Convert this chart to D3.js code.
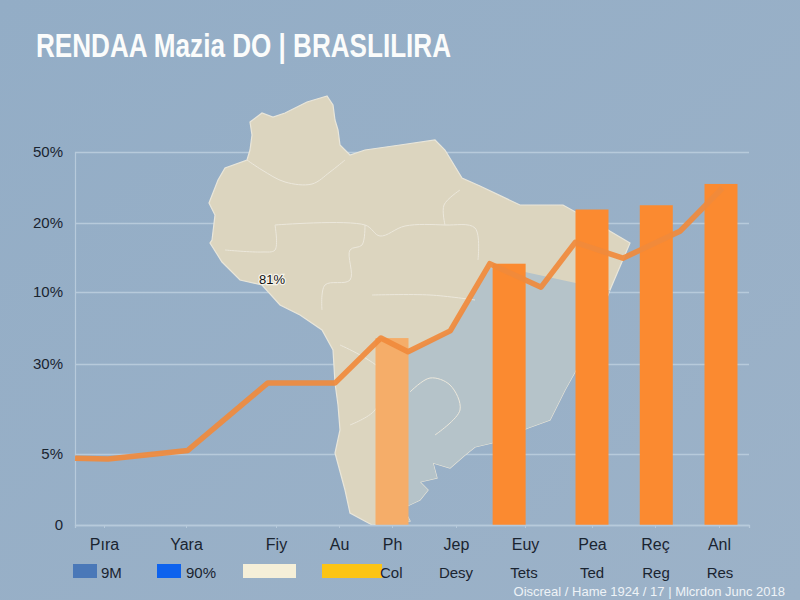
<!DOCTYPE html>
<html>
<head>
<meta charset="utf-8">
<script src="https://cdnjs.cloudflare.com/ajax/libs/d3/7.8.5/d3.min.js"></script>
<style>
  html, body { margin: 0; padding: 0; background: #97afc7; overflow: hidden; }
  text { font-family: "Liberation Sans", Arial, sans-serif; }
  .title { font-family: "Liberation Sans Narrow", "Liberation Sans", sans-serif; font-weight: bold; }
</style>
</head>
<body>
<script>
// values
var categories = ["Pıra", "Yara", "Fiy", "Au", "Ph", "Jep", "Euy", "Pea", "Reç", "Anl"];
var yLabels = ["0", "5%", "30%", "10%", "20%", "50%"];
var lineAt = [-0.35, 0.05, 1.02, 1.91, 2.94, 3.79, 4.25, 4.91, 5.49, 6.24, 6.75, 7.49, 8.39, 9.05];
var lineValues = [0.94, 0.93, 1.04, 1.79, 1.79, 2.36, 2.17, 2.46, 3.41, 3.07, 3.72, 3.49, 3.88, 4.49];
var barAt = [4, 5.77, 7, 8.02, 9.03];
var barValues = [2.36, 3.41, 4.19, 4.25, 4.55];
var barFaded = [true, false, false, false, false];
var legendLabels = ["9M", "90%", "", "Col", "Desy", "Tets", "Ted", "Reg", "Res"];

// the backdrop map is drawn in page pixels
var mapOutline = [[327,96],[307,102],[285,113],[273,117],[262,113],[250,122],[252,135],[250,150],[247,160],[225,168],[218,180],[209,203],
  [215,215],[212,240],[210,243],[222,262],[240,280],[262,285],[280,305],[300,315],[322,330],[333,350],[335,383],[338,405],[340,430],
  [335,453],[345,490],[350,513],[372,525],[410,521],[403,508],[420,500],[428,490],[420,482],[437,478],[433,463],[450,468],[465,455],
  [475,447],[492,443],[528,428],[550,420],[565,390],[575,372],[592,335],[610,290],[630,243],[608,230],[563,205],[520,205],[480,186],
  [462,178],[445,150],[435,140],[400,145],[365,150],[350,155],[340,145],[338,130],[335,120],[333,105]];
var shadeArea = [[408,352],[450,331],[490,268],[525,272],[608,290],[660,290],[660,440],[408,540]];
var borders = [
  [[247,160],[262,170],[285,182],[312,184],[330,172],[345,160]],
  [[275,225],[275,250],[262,252],[225,250]],
  [[275,225],[365,225],[380,236],[405,226],[445,225],[475,228],[478,260]],
  [[365,225],[362,245],[350,250],[350,280],[325,285],[322,310]],
  [[372,295],[430,295],[475,300]],
  [[445,225],[444,205],[460,190]],
  [[340,345],[385,375],[375,410],[350,425]],
  [[410,392],[430,378],[450,385],[460,410],[435,435]]
];

var width = 800, height = 600;
var margin = { top: 152, right: 51, bottom: 75, left: 75 };
var plotRight = width - margin.right, plotBottom = height - margin.bottom;

var svg = d3.select("body").append("svg")
    .attr("width", width)
    .attr("height", height)
    .style("display", "block");

var defs = svg.append("defs");
var bg = defs.append("linearGradient").attr("id", "bg").attr("x1", 0).attr("y1", 0).attr("x2", 1).attr("y2", 1);
bg.append("stop").attr("offset", "0%").attr("stop-color", "#93adc6");
bg.append("stop").attr("offset", "100%").attr("stop-color", "#9cb2c8");
defs.append("clipPath").attr("id", "shade").append("polygon")
    .attr("points", shadeArea.join(" "));

svg.append("rect").attr("width", width).attr("height", height).attr("fill", "url(#bg)");

// x steps are uneven in the picture so the scale is piecewise
var x = d3.scaleLinear()
    .domain([-0.35, 0, 1, 2, 3, 4, 5, 6, 7, 8, 9, 9.45])
    .range([margin.left, 104, 186, 276, 339, 392, 456, 525, 592, 655, 719, plotRight]);
var y = d3.scaleLinear()
    .domain([0, 1, 2, 3, 4, 5])
    .range([plotBottom, 454, 364, 292, 223, margin.top]);

// grid under the map
var yAxis = d3.axisLeft(y)
    .tickValues(d3.range(yLabels.length))
    .tickSize(-(plotRight - margin.left))
    .tickPadding(12)
    .tickFormat(function(d) { return yLabels[d]; });

var yG = svg.append("g").attr("transform", "translate(" + margin.left + ",0)").call(yAxis);
yG.select(".domain").attr("stroke", "#b7cadb").attr("stroke-width", 1.2);
yG.selectAll(".tick line").attr("stroke", "#b7cadb").attr("stroke-width", 1.3);
yG.selectAll(".tick text").attr("font-size", 15).attr("fill", "#1a2430").attr("font-family", "Liberation Sans");

// map
var outline = d3.line().curve(d3.curveLinearClosed);
var borderLine = d3.line().curve(d3.curveCatmullRom);
svg.append("path")
    .attr("d", outline(mapOutline))
    .attr("fill", "#dcd5bf")
    .attr("stroke", "#e9e6da")
    .attr("stroke-width", 1.2);
svg.append("path")
    .attr("d", outline(mapOutline))
    .attr("clip-path", "url(#shade)")
    .attr("fill", "#b5c3c9");
svg.selectAll(".border")
    .data(borders)
  .enter().append("path")
    .attr("class", "border")
    .attr("d", function(d) { return borderLine(d); })
    .attr("fill", "none")
    .attr("stroke", "#ece8dc")
    .attr("stroke-width", 1);

// bars
var barWidth = 33;
svg.selectAll(".bar")
    .data(barValues)
  .enter().append("rect")
    .attr("class", "bar")
    .attr("x", function(d, i) { return x(barAt[i]) - barWidth / 2; })
    .attr("y", function(d) { return y(d); })
    .attr("width", barWidth)
    .attr("height", function(d) { return y(0) - y(d); })
    .attr("fill", function(d, i) { return barFaded[i] ? "#f5ad69" : "#fb8a30"; });

// line
var line = d3.line()
    .x(function(d, i) { return x(lineAt[i]); })
    .y(function(d) { return y(d); });
svg.append("path")
    .attr("d", line(lineValues))
    .attr("fill", "none")
    .attr("stroke", "#f08a3c")
    .attr("stroke-width", 5.5)
    .attr("stroke-opacity", 0.92)
    .attr("stroke-linejoin", "round");

// x axis
var xAxis = d3.axisBottom(x)
    .tickValues(d3.range(categories.length))
    .tickSize(3)
    .tickPadding(11)
    .tickFormat(function(d) { return categories[d]; });
var xG = svg.append("g").attr("transform", "translate(0," + plotBottom + ")").call(xAxis);
xG.select(".domain").attr("stroke", "#b7cadb").attr("stroke-width", 1.3);
xG.selectAll(".tick line").attr("stroke", "#b7cadb");
xG.selectAll(".tick text").attr("font-size", 16).attr("fill", "#1a2430").attr("font-family", "Liberation Sans");

// legend row
var swatches = [
  { x: 73, w: 24, fill: "#4a78b8" },
  { x: 157, w: 24, fill: "#0d62ee" },
  { x: 243, w: 53, fill: "#f5efd8" },
  { x: 322, w: 60, fill: "#fcc414" }
];
svg.selectAll(".swatch")
    .data(swatches)
  .enter().append("rect")
    .attr("class", "swatch")
    .attr("x", function(d) { return d.x; })
    .attr("y", 564)
    .attr("width", function(d) { return d.w; })
    .attr("height", 14)
    .attr("fill", function(d) { return d.fill; });

var legendX = [101, 186, 0, 380, 456, 524, 592, 656, 720];
svg.selectAll(".legend")
    .data(legendLabels)
  .enter().append("text")
    .attr("class", "legend")
    .attr("x", function(d, i) { return legendX[i]; })
    .attr("y", 578)
    .attr("text-anchor", function(d, i) { return i > 3 ? "middle" : "start"; })
    .attr("font-size", 15)
    .attr("fill", "#1a2430")
    .text(function(d) { return d; });

svg.append("text")
    .attr("class", "title")
    .attr("x", 36)
    .attr("y", 57)
    .attr("font-size", 34)
    .attr("fill", "#fbfcfb")
    .attr("textLength", 415)
    .attr("lengthAdjust", "spacingAndGlyphs")
    .text("RENDAA Mazia DO | BRASLILIRA");

svg.append("text")
    .attr("x", 272)
    .attr("y", 284)
    .attr("text-anchor", "middle")
    .attr("font-size", 13)
    .attr("fill", "#111")
    .attr("stroke", "#f5f3ea")
    .attr("stroke-width", 2.5)
    .attr("paint-order", "stroke")
    .text("81%");

svg.append("text")
    .attr("x", 785)
    .attr("y", 596)
    .attr("text-anchor", "end")
    .attr("font-size", 13)
    .attr("fill", "#eef3f7")
    .text("Oiscreal / Hame 1924 / 17 | Mlcrdon Junc 2018");
</script>
</body>
</html>
